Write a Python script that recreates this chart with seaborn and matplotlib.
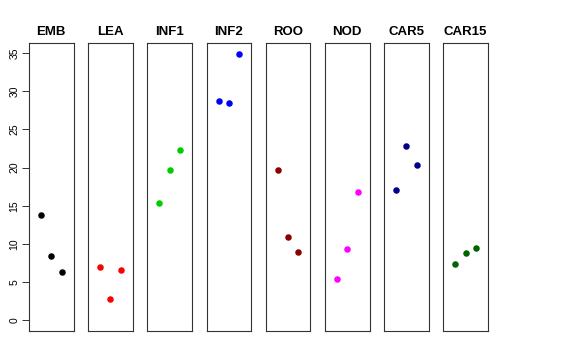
import matplotlib
matplotlib.use("Agg")
import matplotlib.pyplot as plt
import seaborn as sns
import pandas as pd

# Données
groups = ["EMB", "LEA", "INF1", "INF2", "ROO", "NOD", "CAR5", "CAR15"]
colors = ["#000000", "#FF0000", "#00CD00", "#0000FF",
          "#8B0000", "#FF00FF", "#00008B", "#006400"]
rep = [1, 2, 3]
values = {
    "EMB": [13.8, 8.4, 6.3],
    "LEA": [7.0, 2.8, 6.5],
    "INF1": [15.3, 19.7, 22.3],
    "INF2": [28.7, 28.5, 34.9],
    "ROO": [19.7, 10.9, 8.9],
    "NOD": [5.4, 9.3, 16.8],
    "CAR5": [17.0, 22.8, 20.3],
    "CAR15": [7.4, 8.8, 9.4],
}

rows = []
for g in groups:
    for r, v in zip(rep, values[g]):
        rows.append({"group": g, "rep": r, "value": v})
df = pd.DataFrame(rows)

sns.set_style("white")
plt.rcParams["font.family"] = ["Liberation Sans", "DejaVu Sans"]
plt.rcParams["text.color"] = "black"
plt.rcParams["axes.labelcolor"] = "black"

fig = plt.figure(figsize=(5.76, 3.6), dpi=100)
W, H = 576, 360
left0, step, width = 29, 59.2, 44.5
top, bottom = 43, 331

for i, (g, c) in enumerate(zip(groups, colors)):
    ax = fig.add_axes([(left0 + i * step) / W, (H - bottom) / H,
                       width / W, (bottom - top) / H])
    sub = df[df["group"] == g]
    sns.scatterplot(data=sub, x="rep", y="value", color=c, s=22,
                    linewidth=0, ax=ax, legend=False)
    ax.set_xlim(-0.16, 4.16)
    ax.set_ylim(-1.44, 36.35)
    ax.set_xticks([])
    ax.set_xlabel("")
    ax.set_ylabel("")
    ax.set_title(g, fontsize=9.5, fontweight="bold", pad=6, color="black")
    for s in ax.spines.values():
        s.set_visible(True)
        s.set_color("#333333")
        s.set_linewidth(0.8)
    if i == 0:
        ax.set_yticks(range(0, 40, 5))
        ax.tick_params(axis="y", left=True, length=5, width=0.7,
                       labelsize=7.5, pad=2, color="#333333",
                       labelcolor="black")
        plt.setp(ax.get_yticklabels(), rotation=90, va="center")
    else:
        ax.set_yticks([])

fig.savefig("out.png", dpi=100)
